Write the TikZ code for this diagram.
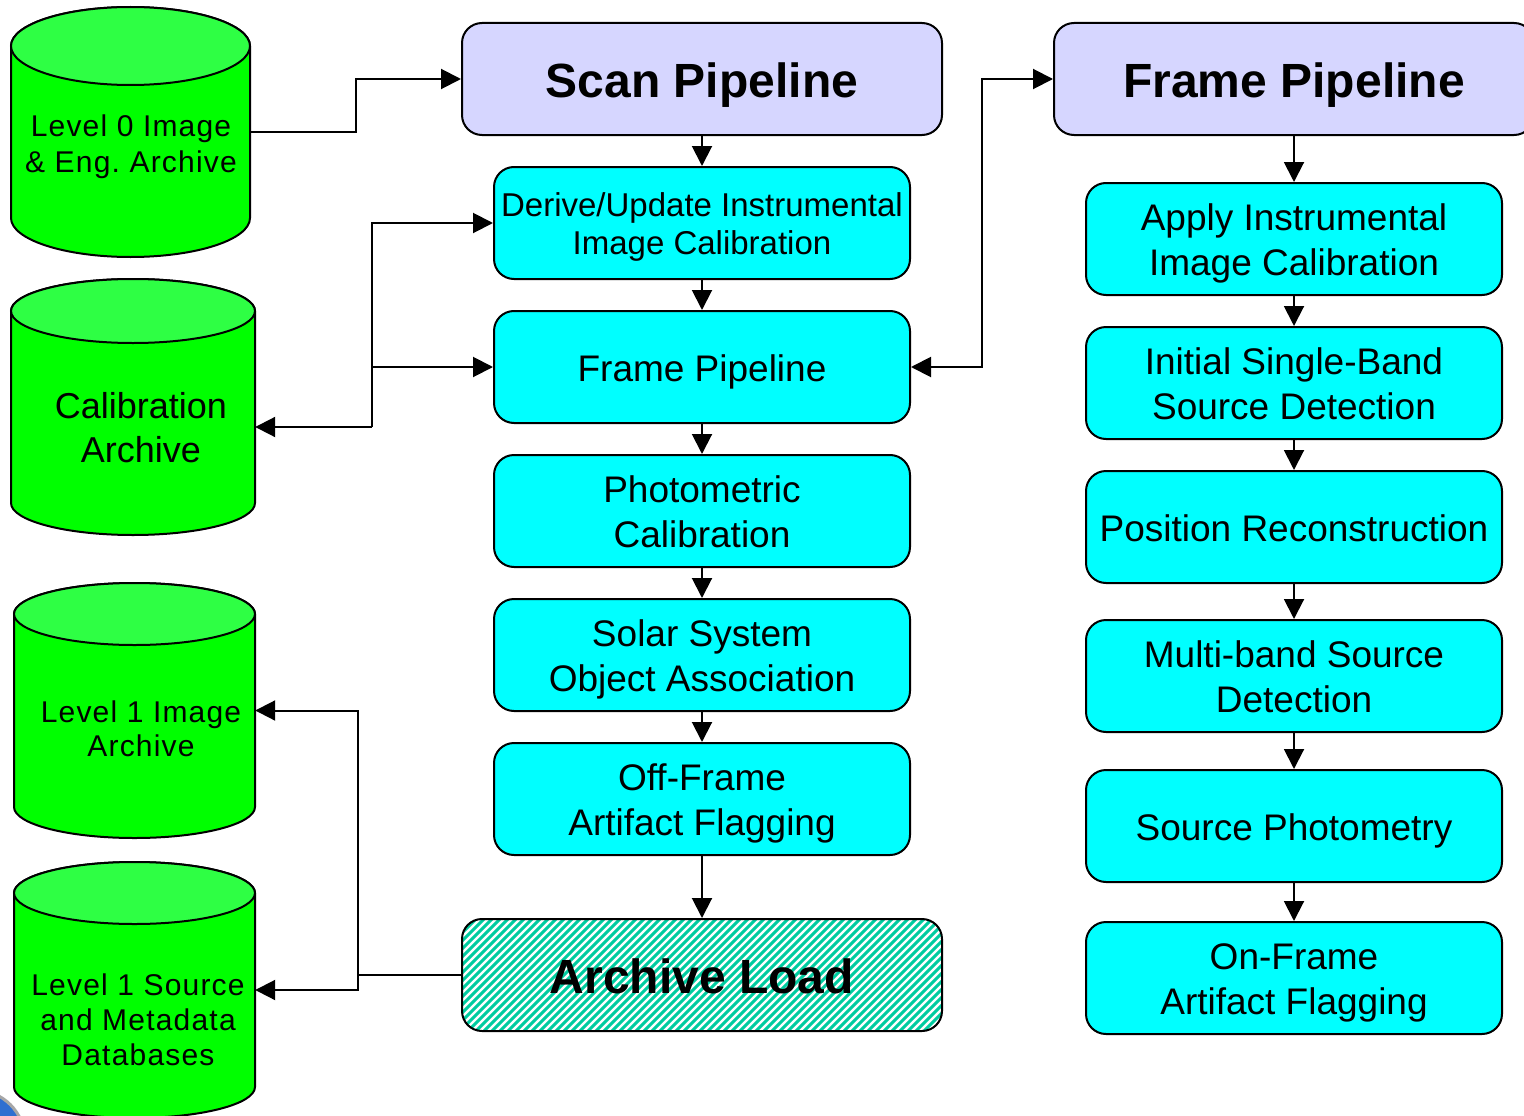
\documentclass[tikz,border=0pt]{standalone}
\usepackage{fontspec}
\setmainfont{Liberation Sans}
\newfontfamily\spacedfont[LetterSpace=4]{Liberation Sans}
\usetikzlibrary{arrows.meta}
\definecolor{cyanbox}{HTML}{00FFFF}
\definecolor{lav}{HTML}{D6D6FF}
\definecolor{dbgreen}{HTML}{00FF00}
\definecolor{dbtop}{HTML}{2EFF44}
\definecolor{hatchc}{HTML}{00CCA0}
\definecolor{blueball}{HTML}{2F6FD0}
\newcommand\topstrut{\rule{0pt}{0.98em}}
\newcommand\botstrut{\rule[-0.22em]{0pt}{0.22em}}
\newcommand\dbcyl[6]{%
  \pgfmathsetmacro\cylcx{(#2+#3)/2}%
  \pgfmathsetmacro\cylrx{(#3-#2)/2}%
  \pgfmathsetmacro\cylcy{(#4+#5)/2}%
  \pgfmathsetmacro\cylh{#5-#4}%
  \pgfmathsetmacro\cylw{#3-#2}%
  \draw[dbline, fill=dbgreen] (#2,#4+#6) -- (#2,#5-#6)
     arc[start angle=180, end angle=360, x radius=\cylrx pt, y radius=#6 pt]
     -- (#3,#4+#6)
     arc[start angle=0, end angle=180, x radius=\cylrx pt, y radius=#6 pt] -- cycle;
  \draw[dbline, fill=dbtop] (\cylcx,#4+#6) ellipse[x radius=\cylrx pt, y radius=#6 pt];
  \node[inner sep=0pt, minimum width=\cylw pt, minimum height=\cylh pt] (#1) at (\cylcx,\cylcy) {};
}
\begin{document}
\begin{tikzpicture}[x=1pt, y=-1pt,
  dbline/.style={draw=black, line width=2pt},
  proc/.style={draw=black, line width=2pt, rounded corners=20pt, fill=cyanbox,
    minimum width=416pt, minimum height=112pt, align=center, inner sep=0pt,
    font=\fontsize{37}{45}\selectfont},
  head/.style={draw=black, line width=2pt, rounded corners=20pt, fill=lav,
    minimum width=480pt, minimum height=112pt, align=center, inner sep=0pt,
    font=\bfseries\fontsize{48}{56}\selectfont},
  loadbox/.style={head, fill=white,
    path picture={\foreach \s in {-130,-122,...,490}
      \draw[hatchc, line width=3pt] ([xshift=\s pt]path picture bounding box.south west) -- ++(160pt,160pt);}},
  dbtext/.style={align=center, inner sep=0pt, font=\spacedfont\fontsize{30}{36}\selectfont},
  arr/.style={line width=2pt, -{Triangle[length=20pt,width=20pt]}},
  arrboth/.style={line width=2pt, {Triangle[length=20pt,width=20pt]}-{Triangle[length=20pt,width=20pt]}},
  plain/.style={line width=2pt}
]
\clip (0,0) rectangle (1524,1116);
\fill[white] (0,0) rectangle (1524,1116);

% partial blue ball at bottom-left corner
\draw[draw=gray!70, line width=3pt, fill=blueball] (-25,1140) circle[radius=50pt];

% databases
\dbcyl{l0}{11}{250}{7}{257}{39}
\dbcyl{cal}{11}{255}{279}{535}{32}
\dbcyl{l1i}{14}{255}{583}{838}{31}
\dbcyl{l1s}{14}{255}{862}{1118}{31}

\node[dbtext] (l0t) at (131,147) {Level 0 Image\\\& Eng.\ Archive};
\node[dbtext, font=\fontsize{36}{44}\selectfont] (calt) at (141,428) {Calibration\\Archive};
\node[dbtext, font=\spacedfont\fontsize{30}{34}\selectfont] (l1it) at (141,729) {Level 1 Image\\Archive};
\node[dbtext, font=\spacedfont\fontsize{30}{35}\selectfont] (l1st) at (138,1020) {Level 1 Source\\and Metadata\\Databases};

% scan pipeline column
\node[head] (scan) at (702,79) {\topstrut Scan Pipeline\botstrut};
\node[proc, font=\fontsize{33}{38}\selectfont] (derive) at (702,223) {\topstrut Derive/Update Instrumental\\Image Calibration\botstrut};
\node[proc] (fp) at (702,367) {\topstrut Frame Pipeline\botstrut};
\node[proc] (phot) at (702,511) {\topstrut Photometric\\Calibration\botstrut};
\node[proc] (solar) at (702,655) {\topstrut Solar System\\Object Association\botstrut};
\node[proc] (off) at (702,799) {\topstrut Off-Frame\\Artifact Flagging\botstrut};
\node[loadbox] (load) at (702,975) {\topstrut Archive Load\botstrut};

% frame pipeline column
\node[head] (fhead) at (1294,79) {\topstrut Frame Pipeline\botstrut};
\node[proc] (apply) at (1294,239) {\topstrut Apply Instrumental\\Image Calibration\botstrut};
\node[proc] (init) at (1294,383) {\topstrut Initial Single-Band\\Source Detection\botstrut};
\node[proc] (pos) at (1294,527) {\topstrut Position Reconstruction\botstrut};
\node[proc] (multi) at (1294,676) {\topstrut Multi-band Source\\Detection\botstrut};
\node[proc] (sphot) at (1294,826) {\topstrut Source Photometry\botstrut};
\node[proc] (onf) at (1294,978) {\topstrut On-Frame\\Artifact Flagging\botstrut};

% vertical flow arrows
\draw[arr] (scan) -- (derive);
\draw[arr] (derive) -- (fp);
\draw[arr] (fp) -- (phot);
\draw[arr] (phot) -- (solar);
\draw[arr] (solar) -- (off);
\draw[arr] (off) -- (load);

\draw[arr] (fhead) -- (apply);
\draw[arr] (apply) -- (init);
\draw[arr] (init) -- (pos);
\draw[arr] (pos) -- (multi);
\draw[arr] (multi) -- (sphot);
\draw[arr] (sphot) -- (onf);

% level 0 to scan pipeline
\draw[arr] (l0.east) -- ++(106,0) |- (scan.west);

% calibration archive links
\coordinate (cj) at (372,427);
\draw[arr] (cj) -- (cj -| cal.east);
\draw[arr] (cj) |- (derive.west);
\draw[arr] (cj) |- (fp.west);

% frame pipeline link
\coordinate (fj) at (982,367);
\draw[arrboth] (fp.east) -- (fj) |- (fhead.west);

% archive load outputs
\coordinate (aj) at (358,975);
\draw[plain] (load.west) -- (aj);
\draw[arr] (aj) |- (l1i.east);
\draw[arr] (aj) |- (l1s.east);
\end{tikzpicture}
\end{document}
